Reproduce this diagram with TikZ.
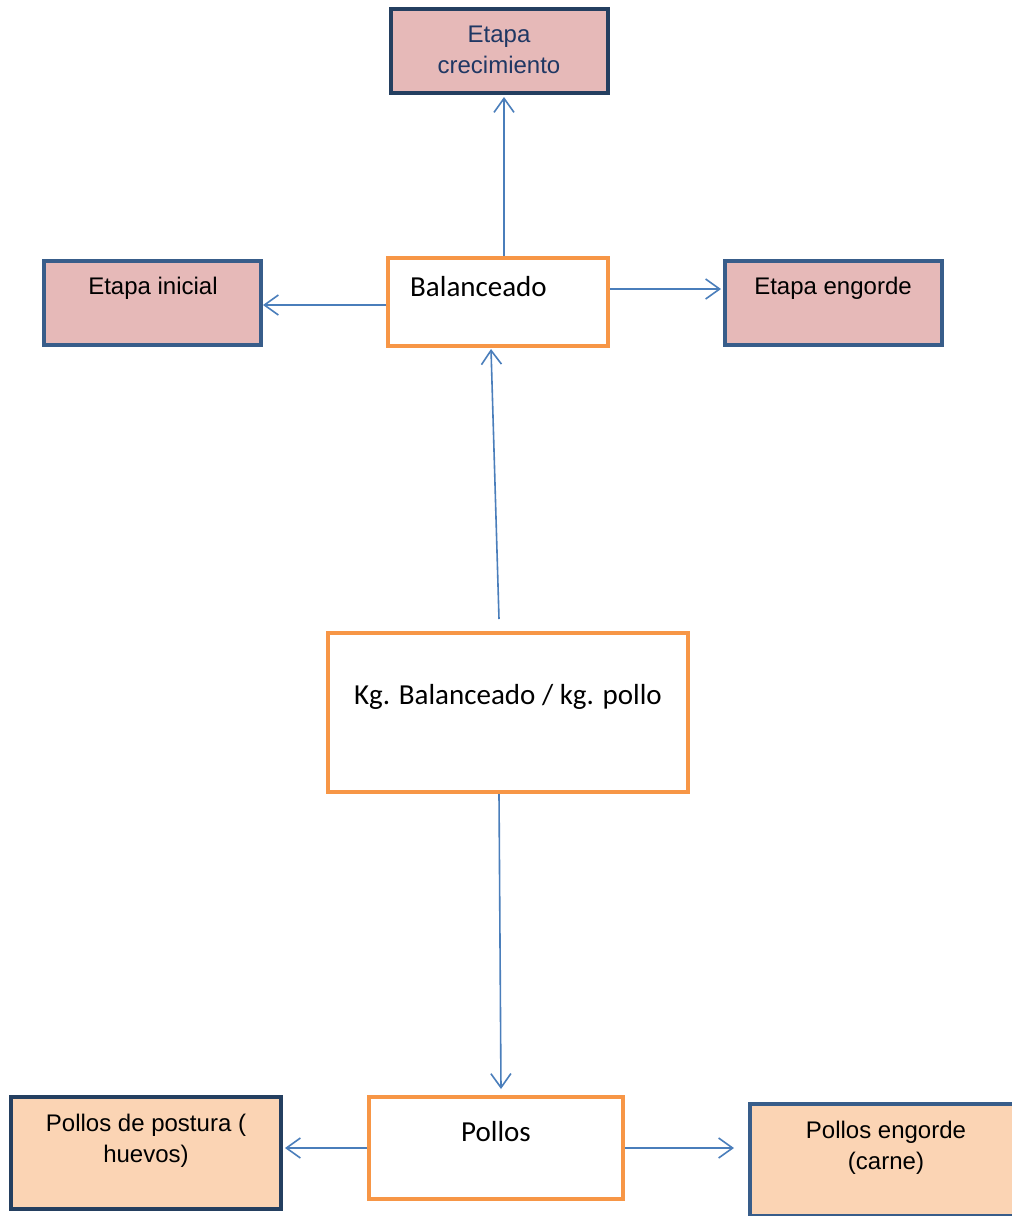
\documentclass[tikz,border=0pt]{standalone}
\usepackage{fontspec}
\setmainfont{Liberation Sans}
\newfontfamily\calib{Carlito}
\usetikzlibrary{arrows.meta}

\definecolor{boxblue}{HTML}{385D8A}
\definecolor{boxnavy}{HTML}{243F60}
\definecolor{textnavy}{HTML}{1F3763}
\definecolor{pinkfill}{HTML}{E6B9B8}
\definecolor{peachfill}{HTML}{FBD4B4}
\definecolor{orangeline}{HTML}{F79646}
\definecolor{connblue}{HTML}{4A7EBB}

\tikzset{
  stagebox/.style={draw=boxblue, fill=pinkfill, line width=4pt, inner sep=0pt},
  outbox/.style={draw=boxblue, fill=peachfill, line width=4pt, inner sep=0pt},
  mainbox/.style={draw=orangeline, fill=white, line width=4pt, inner sep=0pt},
  arialtxt/.style={font=\fontsize{24}{31}\selectfont, align=center, inner sep=0pt,
    text height=18pt, text depth=6pt},
  calibtxt/.style={font=\calib\fontsize{29}{35}\selectfont, inner sep=0pt,
    text height=21pt, text depth=7pt},
  conn/.style={draw=connblue, line width=1.6pt,
    -{Straight Barb[length=14pt,width=20pt,line width=1.6pt]}},
}

\begin{document}
\begin{tikzpicture}[x=1pt,y=-1pt]
\useasboundingbox (0,0) rectangle (1012,1216);
\fill[white] (0,0) rectangle (1012,1216);
\clip (0,0) rectangle (1012,1216);

% boxes
\node[stagebox, draw=boxnavy, minimum width=217pt, minimum height=84pt] (cre) at (499.5,51) {};
\node[stagebox, minimum width=217pt, minimum height=84pt] (ini) at (152.5,303) {};
\node[mainbox, minimum width=220pt, minimum height=88pt] (bal) at (498,302) {};
\node[stagebox, minimum width=217pt, minimum height=84pt] (eng) at (833.5,303) {};
\node[mainbox, minimum width=360pt, minimum height=159pt] (kg) at (508,712.5) {};
\node[mainbox, minimum width=254pt, minimum height=102pt] (pol) at (496,1148) {};
\node[outbox, draw=boxnavy, minimum width=270pt, minimum height=112pt] (post) at (146,1153) {};
\node[outbox, minimum width=270pt, minimum height=112pt] (peng) at (885,1160) {};

% texts
\node[arialtxt, text=textnavy] (tcre) at (499,67) {Etapa\\crecimiento};
\node[arialtxt] (tini) at (153,288) {Etapa inicial};
\node[calibtxt, anchor=west] (tbal) at (410,289) {Balanceado};
\node[arialtxt] (teng) at (833,288) {Etapa engorde};
\node[calibtxt] (tkg) at (508,697) {Kg. Balanceado / kg. pollo};
\node[calibtxt] (tpol) at (496,1134) {Pollos};
\node[arialtxt] (tpost) at (146,1156) {Pollos de postura (\\huevos)};
\node[arialtxt] (tpeng) at (886,1163) {Pollos engorde\\(carne)};

% connectors
\draw[conn] ([xshift=6pt]bal.north) -- ([xshift=4.5pt,yshift=-2pt]cre.south);
\draw[conn] ([yshift=-3pt]bal.west) -- ([yshift=-2pt]ini.east);
\draw[conn] ([yshift=13pt]bal.east) -- ([xshift=-2pt,yshift=14pt]eng.west);
\draw[conn] ([xshift=-9pt,yshift=12pt]kg.north) -- ([xshift=-7pt,yshift=-1pt]bal.south);
\draw[conn] ([xshift=-9pt]kg.south) -- ([xshift=5pt,yshift=6pt]pol.north);
\draw[conn] (pol.west) -- ([xshift=2pt,yshift=5pt]post.east);
\draw[conn] (pol.east) -- ([xshift=-14pt,yshift=12pt]peng.west);
\end{tikzpicture}
\end{document}
